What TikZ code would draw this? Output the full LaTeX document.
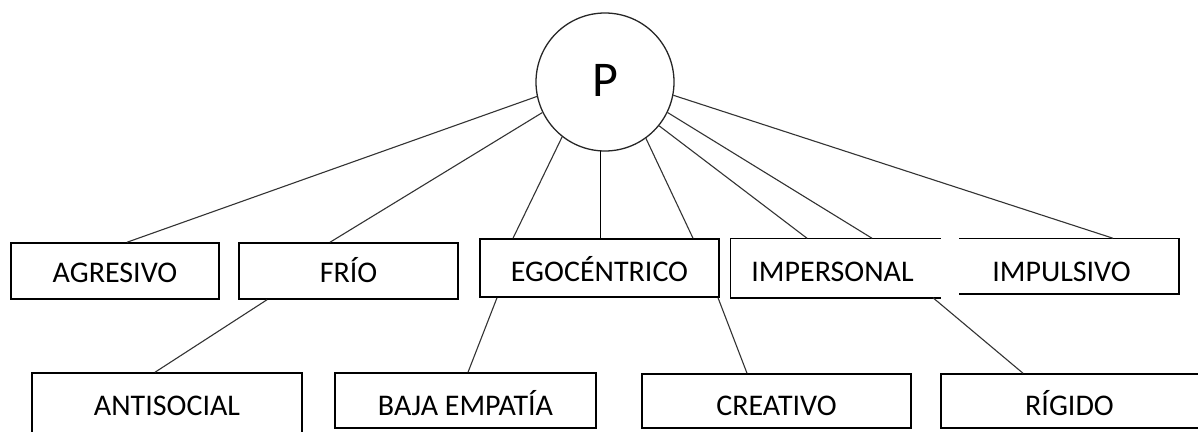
\documentclass[tikz,border=0pt]{standalone}
\usepackage{fontspec}
\setmainfont{Carlito}
\usetikzlibrary{calc}
\newcommand\mytxt[2]{\raisebox{-#1pt}{#2}}
\begin{document}
\begin{tikzpicture}[x=1pt,y=-1pt,
  box/.style={draw=black,line width=1.5pt,fill=white,inner sep=0pt,
    font=\fontsize{30}{34}\selectfont,text height=19.3pt,text depth=0pt},
  openbox/.style={box,draw=none},
  border/.style={draw=black,line width=1.5pt},
  link/.style={draw=black!80,line width=1.1pt},
  vlink/.style={draw=black,line width=1.3pt}]
\useasboundingbox (0,0) rectangle (1198,431);
\clip (0,0) rectangle (1198,431);
\fill[white] (0,0) rectangle (1198,431);

% centre node
\node[circle,draw=black!85,line width=1.3pt,minimum size=138pt,inner sep=0pt,
  font=\fontsize{50}{50}\selectfont] (P) at (605,82) {\raisebox{4pt}{P}};

% first row
\node[box,minimum width=208pt,minimum height=56pt] (agresivo) at (115,271) {\mytxt{2}{AGRESIVO}};
\node[box,minimum width=219pt,minimum height=56pt] (frio) at (348.5,271) {\mytxt{2}{FRÍO}};
\node[box,minimum width=239pt,minimum height=58pt] (ego) at (599.5,268) {\mytxt{4}{EGOCÉNTRICO}};
\node[openbox,minimum width=209pt,minimum height=58pt] (imper) at (835.5,268) {\hspace*{-6pt}\mytxt{4}{IMPERSONAL}};
\node[openbox,minimum width=218pt,minimum height=54pt] (impul) at (1069,266) {\hspace*{-15pt}\mytxt{6}{IMPULSIVO}};
\draw[border] (imper.north east) -- (imper.north west) -- (imper.south west) -- (imper.south east);
\draw[border] (impul.north west) -- (impul.north east) -- (impul.south east) -- (impul.south west);

% second row
\node[box,minimum width=270pt,minimum height=64pt] (antisocial) at (167,405) {\mytxt{1}{ANTISOCIAL}};
\node[box,minimum width=261pt,minimum height=55pt] (baja) at (465.5,400.5) {\mytxt{5.5}{BAJA EMPATÍA}};
\node[box,minimum width=269pt,minimum height=54pt] (creativo) at (776.5,401) {\mytxt{5}{CREATIVO}};
\node[box,minimum width=262pt,minimum height=54pt] (rigido) at (1072,401) {\hspace*{-5pt}\mytxt{5}{RÍGIDO}};

% connectors from P
\draw[link] (P.192.6) -- ([xshift=12pt]agresivo.north);
\draw[link] (P.206) -- ([xshift=-18.5pt]frio.north);
\draw[link] (P.232.6) -- ([xshift=-86.5pt]ego.north);
\draw[vlink] (P.266) -- (P.266 |- ego.north);
\draw[link] (P.306.9) -- ([xshift=93.5pt]ego.north);
\draw[link] (P.321.7) -- ([xshift=-28.5pt]imper.north);
\draw[link] (P.334.5) -- ([xshift=36.5pt]imper.north);
\draw[link] (P.349.2) -- ([xshift=44pt]impul.north);

% second-level connectors
\draw[link] ([xshift=-81.5pt]frio.south) -- ([xshift=-12pt]antisocial.north);
\draw[link] ([xshift=-102.5pt]ego.south) -- ([xshift=2.5pt]baja.north);
\draw[link] ([xshift=118.5pt]ego.south) -- ([xshift=-29.5pt]creativo.north);
\draw[link] ([xshift=97.5pt]imper.south) -- ([xshift=-49pt]rigido.north);
\end{tikzpicture}
\end{document}
